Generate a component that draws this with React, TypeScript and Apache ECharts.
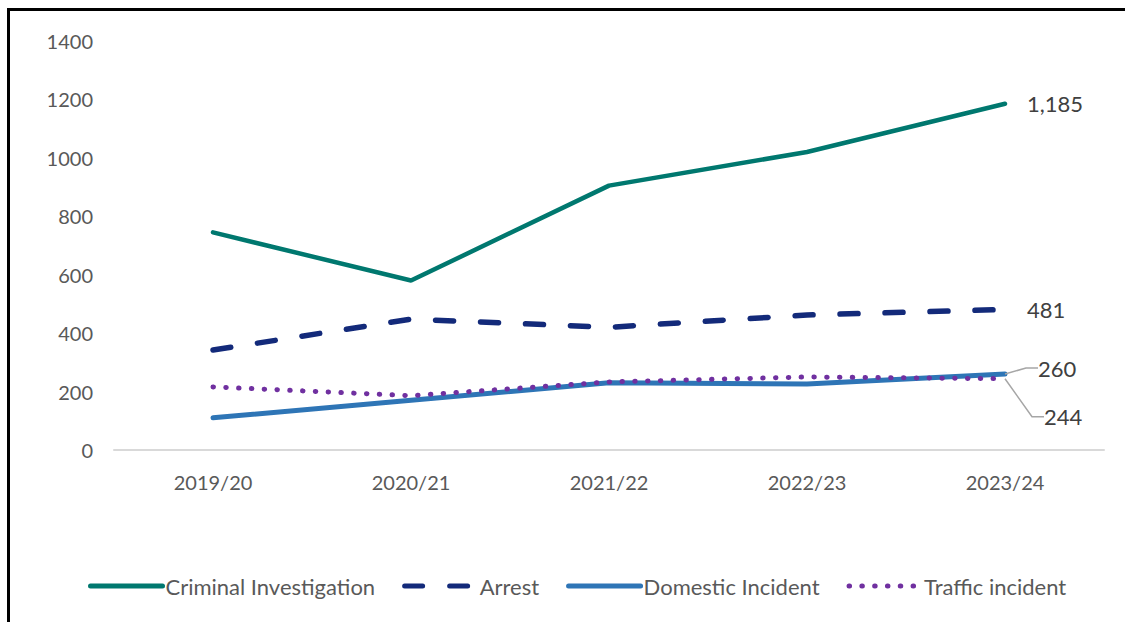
import React, { useEffect, useRef } from "react";
import * as echarts from "echarts";

const categories = ["2019/20", "2020/21", "2021/22", "2022/23", "2023/24"];
const criminalInvestigation = [745, 580, 905, 1020, 1185];
const arrest = [342, 448, 420, 462, 481];
const domesticIncident = [110, 170, 230, 226, 260];
const trafficIncident = [216, 186, 233, 250, 244];
const yTicks = { min: 0, max: 1400, interval: 200 };

const FONT = "Lato, 'Open Sans', sans-serif";
const GREY = "#595959";

function lastLabel(values: number[], guide: boolean) {
  return values.map((v, i) =>
    i === values.length - 1
      ? {
          value: v,
          label: {
            show: true,
            position: "right",
            distance: 22,
            formatter: (p: any) => Number(p.value).toLocaleString("en-GB"),
            color: "#404040",
            fontSize: 22,
            fontFamily: FONT,
          },
          labelLine: guide
            ? { show: true, length2: 12, smooth: false, lineStyle: { color: "#A6A6A6", width: 1.5 } }
            : { show: false },
        }
      : v
  );
}

const common = { symbol: "circle", symbolSize: 0.01, showSymbol: true, showAllSymbol: true };

export default function App() {
  const ref = useRef<HTMLDivElement>(null);
  useEffect(() => {
    if (!ref.current) return;
    const chart = echarts.init(ref.current, undefined, { renderer: "svg" });
    chart.setOption({
      animation: false,
      backgroundColor: "#ffffff",
      grid: { left: 114, right: 21, top: 41, bottom: 172 },
      xAxis: {
        type: "category",
        data: categories,
        boundaryGap: true,
        axisLine: { show: true, lineStyle: { color: "#D9D9D9", width: 2 } },
        axisTick: { show: false },
        axisLabel: { color: GREY, fontSize: 20, fontFamily: FONT, margin: 22 },
        splitLine: { show: false },
      },
      yAxis: {
        type: "value",
        min: yTicks.min,
        max: yTicks.max,
        interval: yTicks.interval,
        axisLine: { show: false },
        axisTick: { show: false },
        splitLine: { show: false },
        axisLabel: { color: GREY, fontSize: 20, fontFamily: FONT, margin: 21, formatter: (v: number) => String(v) },
      },
      legend: {
        bottom: 20,
        left: 83,
        itemWidth: 72,
        itemHeight: 14,
        itemGap: 27,
        itemStyle: { opacity: 0 },
        lineStyle: { width: 5, cap: "round" },
        textStyle: { color: GREY, fontSize: 22, fontFamily: FONT, padding: [0, 0, 0, -2] },
        data: ["Criminal Investigation", "Arrest", "Domestic Incident", "Traffic incident"],
      },
      series: [
        {
          name: "Criminal Investigation",
          type: "line",
          data: lastLabel(criminalInvestigation, false),
          ...common,
          color: "#00786F",
          lineStyle: { color: "#00786F", width: 4.5, cap: "round" },
        },
        {
          name: "Arrest",
          type: "line",
          data: lastLabel(arrest, false),
          ...common,
          color: "#132A7A",
          lineStyle: { color: "#132A7A", width: 5.5, type: [18, 27], cap: "round" },
        },
        {
          name: "Domestic Incident",
          type: "line",
          data: lastLabel(domesticIncident, true),
          ...common,
          color: "#2E75B6",
          lineStyle: { color: "#2E75B6", width: 5, cap: "round" },
          labelLayout: (p: any) => (p.dataIndex === 4 ? { dx: 11, dy: -6 } : {}),
          z: 3,
        },
        {
          name: "Traffic incident",
          type: "line",
          data: lastLabel(trafficIncident, true),
          ...common,
          color: "#7030A0",
          lineStyle: { color: "#7030A0", width: 5, type: [0.5, 12.3], cap: "round" },
          labelLayout: (p: any) => (p.dataIndex === 4 ? { dx: 17, dy: 38 } : {}),
          z: 4,
        },
      ],
      graphic: [
        { type: "rect", left: 7, top: 8, shape: { width: 3, height: 614 }, style: { fill: "#000" }, z: 100 },
        { type: "rect", left: 7, top: 8, shape: { width: 1118, height: 3 }, style: { fill: "#000" }, z: 100 },
      ],
    });
    return () => chart.dispose();
  }, []);
  return <div ref={ref} style={{ position: "fixed", left: 0, top: 0, width: 1125, height: 622 }} />;
}
